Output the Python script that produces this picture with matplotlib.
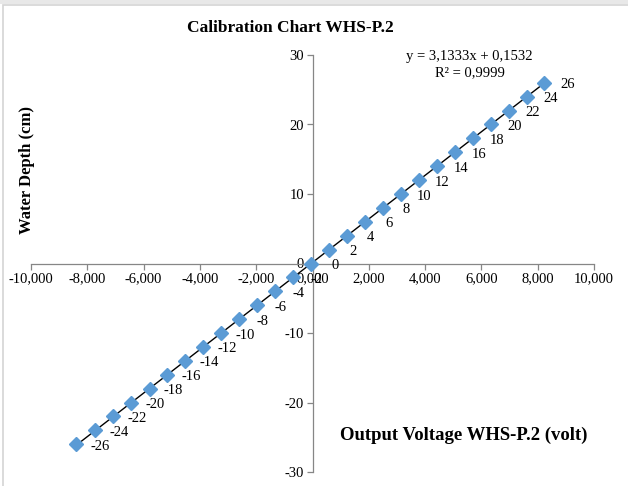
import matplotlib.pyplot as plt
import matplotlib.ticker as mticker
from matplotlib.patches import Rectangle

# Data: output voltage (volt) vs water depth (cm)
depth = [-26, -24, -22, -20, -18, -16, -14, -12, -10, -8, -6, -4, -2, 0,
         2, 4, 6, 8, 10, 12, 14, 16, 18, 20, 22, 24, 26]
voltage = [-8.40, -7.71, -7.07, -6.43, -5.79, -5.16, -4.52, -3.88, -3.24, -2.60,
           -1.96, -1.33, -0.70, -0.05, 0.59, 1.23, 1.87, 2.50, 3.14, 3.78,
           4.42, 5.06, 5.70, 6.33, 6.97, 7.61, 8.24]

slope = 3.1333
intercept = 0.1532
r2 = 0.9999

plt.rcParams['font.family'] = ['Liberation Serif', 'DejaVu Serif']

fig = plt.figure(figsize=(6.28, 4.86), dpi=100)
# light frame like the screenshot
fig.patches.append(Rectangle((3 / 628, -0.05), 1.2, 1 - 5 / 486 + 0.05,
                             transform=fig.transFigure, fill=False,
                             edgecolor='#d4d4d4', linewidth=1.2))
fig.patches.append(Rectangle((0, 1 - 4 / 486), 1, 4 / 486,
                             transform=fig.transFigure, facecolor='#e8e8e8',
                             edgecolor='none'))

ax = fig.add_axes([31 / 628, 1 - 472 / 486, (594 - 31) / 628, (472 - 55) / 486])

# trendline across the data range
xs = [min(voltage), max(voltage)]
ax.plot(xs, [slope * v + intercept for v in xs], color='black', lw=1.0, zorder=2)
ax.plot(voltage, depth, linestyle='none', marker='D', markersize=7.5,
        color='#5B9BD5', markeredgecolor='#5B9BD5', zorder=3)

for v, d in zip(voltage, depth):
    ax.annotate(str(d), (v, d), textcoords='offset points', xytext=(17, -1.5),
                ha='center', va='center', fontsize=10.5, zorder=4)

ax.set_xlim(-10, 10)
ax.set_ylim(-30, 30)
ax.xaxis.set_major_locator(mticker.MultipleLocator(2))
ax.yaxis.set_major_locator(mticker.MultipleLocator(10))
ax.xaxis.set_major_formatter(mticker.FuncFormatter(
    lambda v, p: f"{v:.3f}".replace('.', ',').replace('−', '-')))
ax.yaxis.set_major_formatter(mticker.FuncFormatter(lambda v, p: f"{v:.0f}"))

for side in ['top', 'right']:
    ax.spines[side].set_visible(False)
ax.spines['left'].set_position(('data', 0))
ax.spines['bottom'].set_position(('data', 0))
for side in ['left', 'bottom']:
    ax.spines[side].set_color('#868686')
    ax.spines[side].set_linewidth(0.9)
ax.tick_params(axis='both', direction='out', length=4, width=0.9,
               color='#868686', labelsize=10.5, pad=2)
ax.set_facecolor('none')

ax.text(5.58, 29.8, f"y = {slope:.4f}x + {intercept:.4f}".replace('.', ','),
        ha='center', va='center', fontsize=10.5)
ax.text(5.58, 27.4, f"R² = {r2:.4f}".replace('.', ','),
        ha='center', va='center', fontsize=10.5)

fig.text(0.462, 1 - 28 / 486, 'Calibration Chart WHS-P.2', ha='center',
         va='center', fontsize=12.5, fontweight='bold')
fig.text(27 / 628, 1 - 170 / 486, 'Water Depth (cm)', ha='center', va='center',
         rotation=90, fontsize=12, fontweight='bold')
ax.text(5.37, -24.7, 'Output Voltage WHS-P.2 (volt)', ha='center', va='center',
        fontsize=13.5, fontweight='bold')

fig.savefig('out.png', dpi=100, facecolor='white')
